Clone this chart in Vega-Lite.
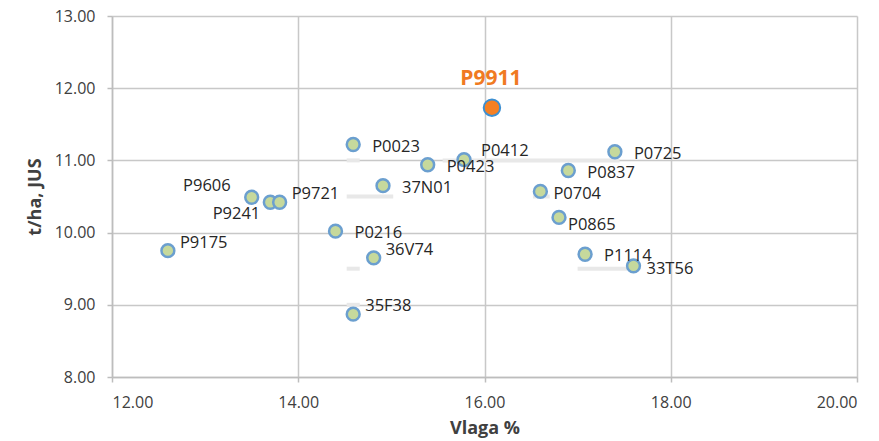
{
  "$schema": "https://vega.github.io/schema/vega-lite/v6.json",
  "width": 745,
  "height": 361,
  "autosize": {"type": "none"},
  "padding": {"left": 112, "top": 16, "right": 22, "bottom": 64},
  "background": "white",
  "config": {
    "view": {"stroke": null},
    "font": "Open Sans",
    "axis": {
      "gridColor": "#c8c8c8",
      "gridWidth": 1.5,
      "domainColor": "#bdbdbd",
      "domainWidth": 1.5,
      "tickColor": "#bdbdbd",
      "tickWidth": 1.5,
      "tickSize": 5,
      "labelFont": "Open Sans",
      "labelFontSize": 16,
      "labelColor": "#404040",
      "titleFont": "Open Sans",
      "titleFontSize": 18,
      "titleFontWeight": "bold",
      "titleColor": "#404040"
    }
  },
  "datasets": {
    "pts": [
      {"name": "P9911", "vlaga": 16.08, "jus": 11.73},
      {"name": "P0023", "vlaga": 14.59, "jus": 11.22},
      {"name": "P0412", "vlaga": 15.78, "jus": 11.01},
      {"name": "P0423", "vlaga": 15.39, "jus": 10.94},
      {"name": "P0725", "vlaga": 17.40, "jus": 11.12},
      {"name": "P0837", "vlaga": 16.90, "jus": 10.86},
      {"name": "37N01", "vlaga": 14.91, "jus": 10.65},
      {"name": "P0704", "vlaga": 16.60, "jus": 10.57},
      {"name": "P9606", "vlaga": 13.50, "jus": 10.49},
      {"name": "P9241", "vlaga": 13.70, "jus": 10.42},
      {"name": "P9721", "vlaga": 13.80, "jus": 10.42},
      {"name": "P0865", "vlaga": 16.80, "jus": 10.21},
      {"name": "P0216", "vlaga": 14.40, "jus": 10.02},
      {"name": "P1114", "vlaga": 17.08, "jus": 9.70},
      {"name": "P9175", "vlaga": 12.60, "jus": 9.75},
      {"name": "36V74", "vlaga": 14.81, "jus": 9.65},
      {"name": "33T56", "vlaga": 17.60, "jus": 9.54},
      {"name": "35F38", "vlaga": 14.59, "jus": 8.87}
    ],
    "segs": [
      {"y": 11.0, "x1": 14.52, "x2": 14.66},
      {"y": 11.0, "x1": 15.55, "x2": 17.45},
      {"y": 10.5, "x1": 14.52, "x2": 15.02},
      {"y": 10.5, "x1": 16.52, "x2": 16.70},
      {"y": 9.5, "x1": 14.52, "x2": 14.66},
      {"y": 9.5, "x1": 17.0, "x2": 17.53},
      {"y": 9.0, "x1": 14.52, "x2": 14.66}
    ]
  },
  "layer": [
    {
      "data": {"name": "segs"},
      "mark": {"type": "rule", "stroke": "#e8e8e8", "strokeWidth": 4},
      "encoding": {
        "x": {"field": "x1", "type": "quantitative", "scale": {"domain": [12, 20]},
          "axis": {"values": [12, 14, 16, 18, 20], "format": ".2f", "title": "Vlaga %", "labelPadding": 12, "titlePadding": 9}},
        "x2": {"field": "x2"},
        "y": {"field": "y", "type": "quantitative", "scale": {"domain": [8, 13]},
          "axis": {"values": [8, 8.5, 9, 9.5, 10, 10.5, 11, 11.5, 12, 12.5, 13], "format": ".2f", "title": "t/ha, JUS", "labelPadding": 12, "titlePadding": 10}}
      }
    },
    {
      "data": {"name": "pts"},
      "transform": [{"filter": "datum.name != 'P9911'"}],
      "mark": {"type": "point", "filled": true, "fill": "#c6d99c", "stroke": "#6b9fcf", "strokeWidth": 2.5, "size": 165, "opacity": 1},
      "encoding": {
        "x": {"field": "vlaga", "type": "quantitative"},
        "y": {"field": "jus", "type": "quantitative"}
      }
    },
    {
      "data": {"name": "pts"},
      "transform": [{"filter": "datum.name == 'P9911'"}],
      "mark": {"type": "point", "filled": true, "fill": "#f58024", "stroke": "#3d8fd1", "strokeWidth": 2, "size": 270, "opacity": 1},
      "encoding": {
        "x": {"field": "vlaga", "type": "quantitative"},
        "y": {"field": "jus", "type": "quantitative"}
      }
    },
    {
      "data": {"name": "pts"},
      "transform": [{"filter": "indexof(['P0023','P0423','P0725','P0837','37N01','P0216','P1114'], datum.name) >= 0"}],
      "mark": {"type": "text", "align": "left", "baseline": "middle", "dx": 19, "dy": 2, "fontSize": 16.5, "color": "#262626"},
      "encoding": {
        "x": {"field": "vlaga", "type": "quantitative"},
        "y": {"field": "jus", "type": "quantitative"},
        "text": {"field": "name"}
      }
    },
    {
      "data": {"name": "pts"},
      "transform": [{"filter": "indexof(['P0704','33T56'], datum.name) >= 0"}],
      "mark": {"type": "text", "align": "left", "baseline": "middle", "dx": 13, "dy": 3, "fontSize": 16.5, "color": "#262626"},
      "encoding": {
        "x": {"field": "vlaga", "type": "quantitative"},
        "y": {"field": "jus", "type": "quantitative"},
        "text": {"field": "name"}
      }
    },
    {
      "data": {"name": "pts"},
      "transform": [{"filter": "datum.name == 'P0865'"}],
      "mark": {"type": "text", "align": "left", "baseline": "middle", "dx": 9, "dy": 8, "fontSize": 16.5, "color": "#262626"},
      "encoding": {
        "x": {"field": "vlaga", "type": "quantitative"},
        "y": {"field": "jus", "type": "quantitative"},
        "text": {"field": "name"}
      }
    },
    {
      "data": {"name": "pts"},
      "transform": [{"filter": "indexof(['P9721','36V74','35F38','P9175'], datum.name) >= 0"}],
      "mark": {"type": "text", "align": "left", "baseline": "middle", "dx": 12, "dy": -8, "fontSize": 16.5, "color": "#262626"},
      "encoding": {
        "x": {"field": "vlaga", "type": "quantitative"},
        "y": {"field": "jus", "type": "quantitative"},
        "text": {"field": "name"}
      }
    },
    {
      "data": {"name": "pts"},
      "transform": [{"filter": "datum.name == 'P0412'"}],
      "mark": {"type": "text", "align": "left", "baseline": "middle", "dx": 17, "dy": -9, "fontSize": 16.5, "color": "#262626"},
      "encoding": {
        "x": {"field": "vlaga", "type": "quantitative"},
        "y": {"field": "jus", "type": "quantitative"},
        "text": {"field": "name"}
      }
    },
    {
      "data": {"name": "pts"},
      "transform": [{"filter": "datum.name == 'P9606'"}],
      "mark": {"type": "text", "align": "right", "baseline": "middle", "dx": -21, "dy": -11, "fontSize": 16.5, "color": "#262626"},
      "encoding": {
        "x": {"field": "vlaga", "type": "quantitative"},
        "y": {"field": "jus", "type": "quantitative"},
        "text": {"field": "name"}
      }
    },
    {
      "data": {"name": "pts"},
      "transform": [{"filter": "datum.name == 'P9241'"}],
      "mark": {"type": "text", "align": "right", "baseline": "middle", "dx": -10, "dy": 12, "fontSize": 16.5, "color": "#262626"},
      "encoding": {
        "x": {"field": "vlaga", "type": "quantitative"},
        "y": {"field": "jus", "type": "quantitative"},
        "text": {"field": "name"}
      }
    },
    {
      "data": {"name": "pts"},
      "transform": [{"filter": "datum.name == 'P9911'"}],
      "mark": {"type": "text", "align": "center", "baseline": "middle", "dx": -1, "dy": -29, "fontSize": 21, "fontWeight": "bold", "color": "#f07a22"},
      "encoding": {
        "x": {"field": "vlaga", "type": "quantitative"},
        "y": {"field": "jus", "type": "quantitative"},
        "text": {"field": "name"}
      }
    }
  ]
}
